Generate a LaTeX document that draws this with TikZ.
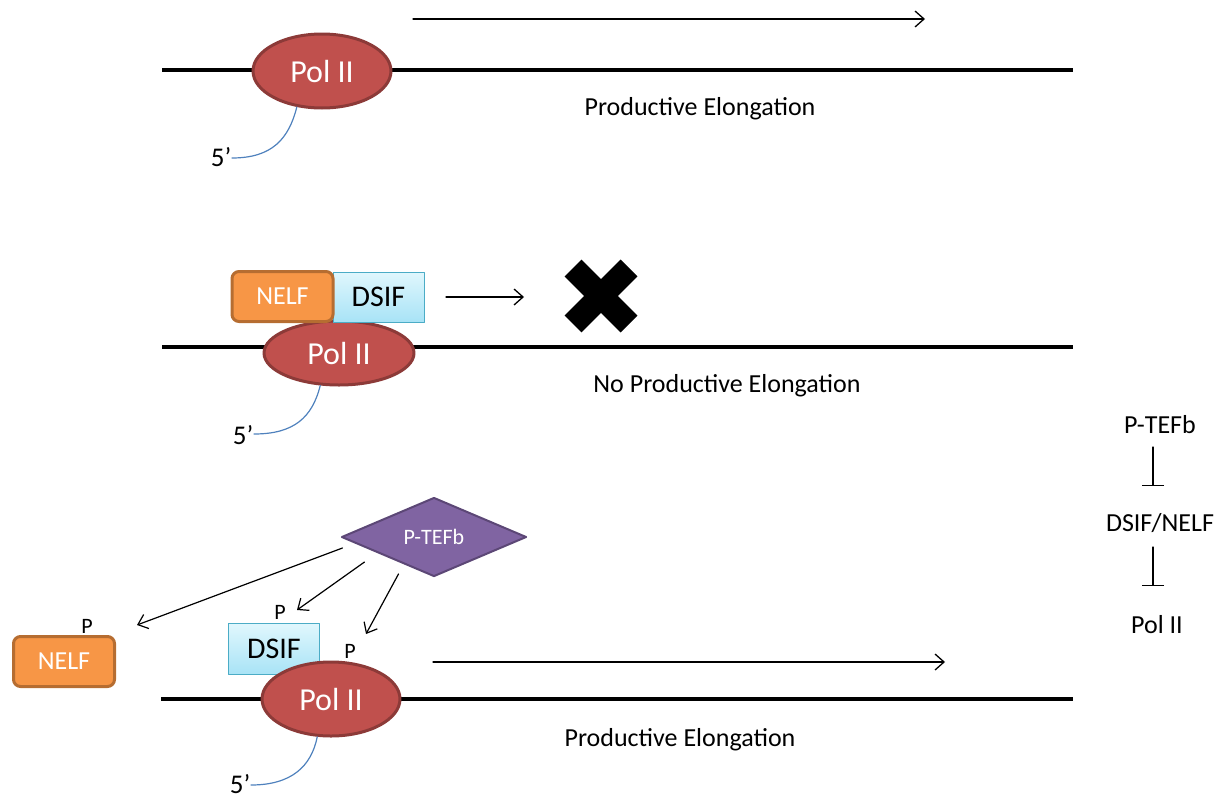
\documentclass[tikz,border=0pt]{standalone}
\usepackage{fontspec}
\setmainfont{Carlito}
\usetikzlibrary{arrows.meta,shapes.geometric,calc}

\definecolor{polred}{RGB}{192,80,77}
\definecolor{polredline}{RGB}{140,58,56}
\definecolor{nelforange}{RGB}{247,150,70}
\definecolor{nelfline}{RGB}{182,109,49}
\definecolor{dsiftop}{RGB}{224,247,253}
\definecolor{dsifbot}{RGB}{168,227,246}
\definecolor{dsifline}{RGB}{75,172,198}
\definecolor{ptefbfill}{RGB}{128,100,162}
\definecolor{ptefbline}{RGB}{92,71,118}
\definecolor{rnablue}{RGB}{79,129,189}

\newcommand{\fsz}[1]{\fontsize{#1}{#1}\selectfont}

\begin{document}
\begin{tikzpicture}[x=1pt,y=-1pt,line cap=round,line join=round,
  polii/.style={ellipse,draw=polredline,line width=3pt,fill=polred,text=white,
    minimum width=138pt,minimum height=74pt,inner sep=0pt,font=\fsz{32}},
  nelfbox/.style={rectangle,rounded corners=7pt,draw=nelfline,line width=3pt,
    fill=nelforange,text=white,minimum width=101pt,minimum height=50pt,font=\fsz{26}},
  dsifbox/.style={rectangle,draw=dsifline,line width=1pt,top color=dsiftop,
    bottom color=dsifbot,minimum width=91pt,minimum height=50pt,font=\fsz{30}},
  kinase/.style={diamond,draw=ptefbline,line width=2pt,fill=ptefbfill,text=white,
    minimum width=185pt,minimum height=79pt,inner sep=0pt,font=\fsz{22}},
  dna/.style={line width=4pt,line cap=butt},
  flow/.style={line width=1.3pt,-{Straight Barb[length=9pt,width=16pt]}},
  hit/.style={line width=1.2pt,-{Straight Barb[length=9pt,width=15pt]}},
  inhibit/.style={line width=1.2pt,-{Bar[width=22pt,line width=1.2pt]}},
  rna/.style={rnablue,line width=1.2pt},
  cross/.style={line width=24pt,line cap=butt},
  lab/.style={font=\fsz{26}},
  primelab/.style={font=\fsz{27},inner sep=0.5pt},
  plab/.style={font=\fsz{22},inner sep=0pt}]
  \useasboundingbox (0,0) rectangle (1225,798);

  % productive elongation
  \coordinate (dnaL1) at (162,70);
  \coordinate (dnaR1) at (1073,70);
  \draw[dna] (dnaL1) -- (dnaR1);
  \node[polii] (pol1) at (322,71) {Pol II};
  \coordinate (rna1) at (232,158);
  \draw[rna] (pol1.-125) .. controls +(-8,32) and +(40,0) .. (rna1);
  \node[primelab,anchor=east] (five1) at ($(rna1)+(0,-1)$) {5’};
  \coordinate (go1s) at (413,19);
  \coordinate (go1e) at (925,19);
  \draw[flow] (go1s) -- (go1e);
  \node[lab] (elong1) at (700,109) {Productive Elongation};

  % paused by DSIF/NELF
  \coordinate (dnaL2) at (162,347);
  \coordinate (dnaR2) at (1073,347);
  \draw[dna] (dnaL2) -- (dnaR2);
  \node[polii,minimum width=150pt,minimum height=64pt] (pol2) at (339,353) {Pol II};
  \node[dsifbox] (dsif2) at (378.5,297) {DSIF};
  \node[nelfbox] (nelf2) at (282.5,296.5) {NELF};
  \coordinate (rna2) at (254,434);
  \draw[rna] (pol2.-120) .. controls +(-8,32) and +(40,0) .. (rna2);
  \node[primelab,anchor=east] (five2) at ($(rna2)+(0,1)$) {5’};
  \coordinate (go2s) at (446,297);
  \coordinate (go2e) at (524,297);
  \draw[flow] (go2s) -- (go2e);
  \coordinate (stop) at (601,296);
  \draw[cross] ($(stop)+(-28,-28)$) -- ($(stop)+(28,28)$);
  \draw[cross] ($(stop)+(28,-28)$) -- ($(stop)+(-28,28)$);
  \node[lab] (elong2) at (727,386) {No Productive Elongation};

  % release by P-TEFb
  \coordinate (dnaL3) at (161,699);
  \coordinate (dnaR3) at (1073,699);
  \draw[dna] (dnaL3) -- (dnaR3);
  \node[dsifbox,minimum height=51pt] (dsif3) at (274,649) {DSIF};
  \node[polii] (pol3) at (331,699) {Pol II};
  \node[nelfbox] (nelf3) at (64,661.5) {NELF};
  \node[plab] (pN) at (87,626) {P};
  \node[plab] (pD) at (280,612) {P};
  \node[plab] (pP) at (350,651) {P};
  \node[kinase] (ptefb) at (434,537) {P-TEFb};
  \coordinate (hitN) at (137,625);
  \coordinate (hitD) at (297,610);
  \coordinate (hitP) at (366,634);
  \draw[hit] ($(ptefb.west)+(2,11)$) -- (hitN);
  \draw[hit] ($(ptefb.west)+(24,25)$) -- (hitD);
  \draw[hit] ($(ptefb.west)+(58,37)$) -- (hitP);
  \coordinate (rna3) at (251,785);
  \draw[rna] (pol3.-110) .. controls +(-6,30) and +(40,0) .. (rna3);
  \node[primelab,anchor=east] (five3) at ($(rna3)+(0,-1)$) {5’};
  \coordinate (go3s) at (433,662);
  \coordinate (go3e) at (945,662);
  \draw[flow] (go3s) -- (go3e);
  \node[lab] (elong3) at (680,740) {Productive Elongation};

  % summary
  \node[lab] (kin) at (1160,425) {P-TEFb};
  \node[lab] (neg) at (1160,523) {DSIF/NELF};
  \node[lab] (tgt) at (1157,625) {Pol II};
  \draw[inhibit] ($(kin.center)+(-7,22)$) -- ++(0,39);
  \draw[inhibit] ($(neg.center)+(-7,24)$) -- ++(0,39);
\end{tikzpicture}
\end{document}
